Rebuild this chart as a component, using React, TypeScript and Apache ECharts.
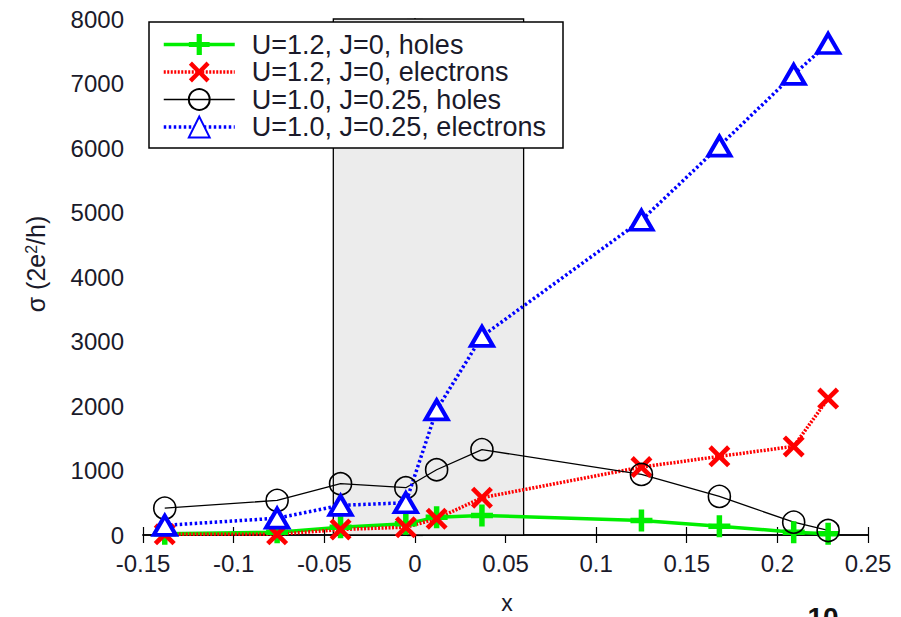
import React, { useEffect, useRef } from "react";
import * as echarts from "echarts";

const xValues = [-0.138, -0.076, -0.041, -0.005, 0.012, 0.037, 0.125, 0.168, 0.209, 0.228];
const holesU12 = [19, 44, 121, 173, 277, 303, 225, 137, 44, 19];
const electronsU12 = [10, 10, 85, 121, 251, 578, 1053, 1219, 1374, 2115];
const holesU10 = [416, 536, 795, 733, 1012, 1323, 939, 598, 199, 70];
const electronsU10 = [150, 260, 460, 500, 1940, 3080, 4880, 6030, 7140, 7620];
const seriesNames = [
  "U=1.2, J=0, holes",
  "U=1.2, J=0, electrons",
  "U=1.0, J=0.25, holes",
  "U=1.0, J=0.25, electrons",
];
const shadedRange = [-0.045, 0.06];
const xTicks = { min: -0.15, max: 0.25, interval: 0.05 };
const yTicks = { min: 0, max: 8000, interval: 1000 };

const FONT = "'Liberation Sans', Arial, sans-serif";
const X_SYMBOL =
  "path://M0,3 L3,0 L10,7 L17,0 L20,3 L13,10 L20,17 L17,20 L10,13 L3,20 L0,17 L7,10 Z";
const PLUS_SYMBOL = "path://M7.5,0 H12.5 V7.5 H20 V12.5 H12.5 V20 H7.5 V12.5 H0 V7.5 H7.5 Z";

const pairs = (ys: number[]) => xValues.map((x, i) => [x, ys[i]]);

export default function App() {
  const ref = useRef<HTMLDivElement>(null);
  useEffect(() => {
    if (!ref.current) return;
    const chart = echarts.init(ref.current, undefined, { renderer: "svg" });
    const xFmt = (v: number) => String(+v.toFixed(2));
    const yFmt = (v: number) => String(Math.round(v));
    const axisCommon = {
      axisLine: { show: true, lineStyle: { color: "#000", width: 1.5 } },
      axisTick: { show: true, inside: true, length: 8, lineStyle: { color: "#000", width: 1.2 } },
      splitLine: { show: false },
    };
    chart.setOption({
      animation: false,
      backgroundColor: "#fff",
      grid: { left: 143, right: 33, top: 19, bottom: 82 },
      xAxis: [
        {
          type: "value",
          ...xTicks,
          ...axisCommon,
          axisLabel: { margin: 16, fontSize: 24, color: "#1a1a2a", fontFamily: FONT, formatter: xFmt },
        },
        {
          type: "value",
          position: "top",
          ...xTicks,
          ...axisCommon,
          axisLabel: { show: false },
        },
      ],
      yAxis: [
        {
          type: "value",
          ...yTicks,
          ...axisCommon,
          axisLabel: { margin: 19, fontSize: 24, color: "#1a1a2a", fontFamily: FONT, formatter: yFmt },
        },
        {
          type: "value",
          position: "right",
          ...yTicks,
          ...axisCommon,
          axisLabel: { show: false },
        },
      ],
      legend: {
        orient: "vertical",
        left: 162,
        top: 31,
        padding: 0,
        itemWidth: 71,
        itemHeight: 26,
        itemGap: 0.5,
        lineStyle: { width: "inherit", type: "inherit" },
        textStyle: {
          fontSize: 27,
          lineHeight: 26,
          color: "#1a1a2a",
          fontFamily: FONT,
          padding: [0, 0, 0, 12],
        },
        data: seriesNames,
        z: 10,
      },
      graphic: [
        {
          type: "rect",
          z: 8,
          shape: { x: 149, y: 22, width: 414, height: 126 },
          style: { fill: "#fff", stroke: "#000", lineWidth: 1.5 },
        },
        {
          type: "text",
          x: 36,
          y: 264,
          rotation: Math.PI / 2,
          style: {
            text: "{a|σ (2e}{s|2}{a|/h)}",
            align: "center",
            verticalAlign: "middle",
            fill: "#1a1a2a",
            rich: {
              a: { fontSize: 25, fontFamily: FONT, fill: "#1a1a2a", verticalAlign: "bottom" },
              s: { fontSize: 16, fontFamily: FONT, fill: "#1a1a2a", verticalAlign: "top" },
            },
          },
        },
        {
          type: "text",
          x: 507,
          y: 603,
          style: { text: "x", fontSize: 23, fontFamily: FONT, fill: "#1a1a2a", align: "center", verticalAlign: "middle" },
        },
        {
          type: "text",
          x: 823,
          y: 603,
          style: {
            text: "10",
            fontSize: 28,
            fontWeight: "bold",
            fontFamily: FONT,
            fill: "#111",
            align: "center",
            verticalAlign: "top",
          },
        },
      ],
      series: [
        {
          name: seriesNames[0],
          type: "line",
          data: pairs(holesU12),
          symbol: PLUS_SYMBOL,
          symbolSize: 22,
          itemStyle: { color: "#00ee00" },
          lineStyle: { color: "#00ee00", width: 3.5, type: "solid" },
          markArea: {
            silent: true,
            z: 1,
            label: { show: false },
            itemStyle: { color: "#ececec", borderColor: "#000", borderWidth: 1.3 },
            data: [[{ xAxis: shadedRange[0] }, { xAxis: shadedRange[1] }]],
          },
        },
        {
          name: seriesNames[1],
          type: "line",
          data: pairs(electronsU12),
          symbol: X_SYMBOL,
          symbolSize: 22,
          itemStyle: { color: "#ff0000" },
          lineStyle: { color: "#ff0000", width: 3.5, type: [2, 1.5] },
        },
        {
          name: seriesNames[2],
          type: "line",
          data: pairs(holesU10),
          symbol: "circle",
          symbolSize: 22,
          itemStyle: { color: "rgba(255,255,255,0)", borderColor: "#000", borderWidth: 1.6 },
          lineStyle: { color: "#000", width: 1.3, type: "solid" },
        },
        {
          name: seriesNames[3],
          type: "line",
          data: pairs(electronsU10),
          symbol: "triangle",
          symbolSize: [22, 19],
          itemStyle: { color: "#ffffff", borderColor: "#0000ff", borderWidth: 4 },
          lineStyle: { color: "#0000ff", width: 3.5, type: [2.5, 2.5] },
        },
      ],
    });
    return () => chart.dispose();
  }, []);
  return (
    <div
      ref={ref}
      style={{ position: "fixed", left: 0, top: 0, width: 901, height: 617, background: "#fff" }}
    />
  );
}
